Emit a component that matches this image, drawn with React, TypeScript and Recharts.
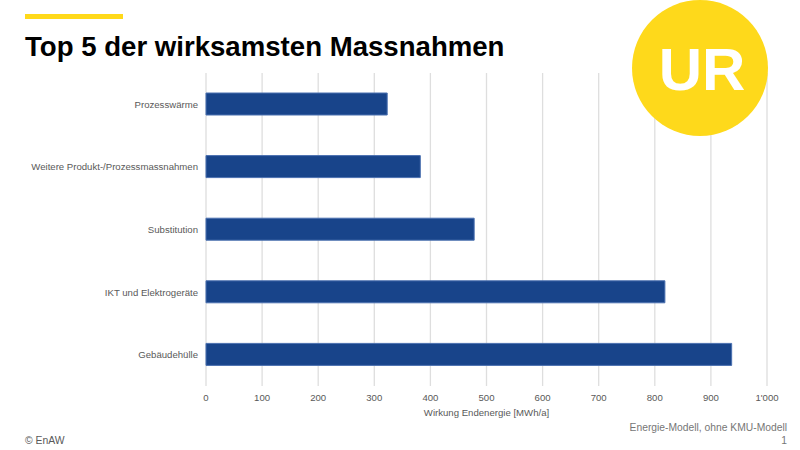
import React from "react";
import { BarChart, Bar, XAxis, YAxis, CartesianGrid } from "recharts";

const categories = [
  "Prozesswärme",
  "Weitere Produkt-/Prozessmassnahmen",
  "Substitution",
  "IKT und Elektrogeräte",
  "Gebäudehülle",
];
const values = [323, 382, 478, 818, 937];
const xTicks = [0, 100, 200, 300, 400, 500, 600, 700, 800, 900, 1000];

const data = categories.map((name, i) => ({ name, value: values[i] }));

const FONT = "'Liberation Sans', Arial, sans-serif";
const fmt = (v: number) => (v >= 1000 ? `${Math.floor(v / 1000)}'${String(v % 1000).padStart(3, "0")}` : String(v));

const CategoryTick = (props: any) => {
  const { x, y, payload } = props;
  return (
    <text x={x} y={y} dy="0.355em" textAnchor="end" fontSize={9.6} fill="#595959" fontFamily={FONT}>
      {payload.value}
    </text>
  );
};

export default function App() {
  return (
    <div style={{ position: "absolute", left: 0, top: 0, width: 800, height: 450, background: "#fff", fontFamily: FONT, overflow: "hidden" }}>
      <BarChart
        width={800}
        height={450}
        data={data}
        layout="vertical"
        margin={{ top: 73, right: 33, bottom: 34, left: 0 }}
        barSize={22}
      >
        <CartesianGrid horizontal={false} stroke="#dedede" strokeWidth={1.3} />
        <XAxis
          type="number"
          domain={[0, 1000]}
          ticks={xTicks}
          tickFormatter={fmt}
          axisLine={false}
          tickLine={false}
          tick={{ fontSize: 9.6, fill: "#595959", fontFamily: FONT }}
          height={30}
          label={{ value: "Wirkung Endenergie [MWh/a]", position: "insideBottom", offset: 0, fontSize: 9.6, fill: "#595959", fontFamily: FONT }}
        />
        <YAxis
          type="category"
          dataKey="name"
          width={206}
          axisLine={false}
          tickLine={false}
          tick={<CategoryTick />}
        />
        <Bar dataKey="value" fill="#18448a" stroke="#4a70b0" strokeWidth={1} isAnimationActive={false} />
      </BarChart>

      <svg width={800} height={450} style={{ position: "absolute", left: 0, top: 0, pointerEvents: "none" }}>
        <rect x={25} y={14} width={98} height={5} fill="#ffd91a" />
        <text x={25} y={56} fontSize={27.6} fontWeight="bold" fill="#000" fontFamily={FONT}>
          Top 5 der wirksamsten Massnahmen
        </text>
        <circle cx={700} cy={68} r={68} fill="#fed91b" />
        <text x={702} y={90} fontSize={60} fontWeight="bold" fill="#fff" textAnchor="middle" fontFamily={FONT}>
          UR
        </text>
        <text x={25} y={444} fontSize={10.4} fill="#595959" fontFamily={FONT}>
          © EnAW
        </text>
        <text x={787} y={430.5} fontSize={10.3} fill="#767676" textAnchor="end" fontFamily={FONT}>
          Energie-Modell, ohne KMU-Modell
        </text>
        <text x={787} y={444} fontSize={10.3} fill="#767676" textAnchor="end" fontFamily={FONT}>
          1
        </text>
      </svg>
    </div>
  );
}
